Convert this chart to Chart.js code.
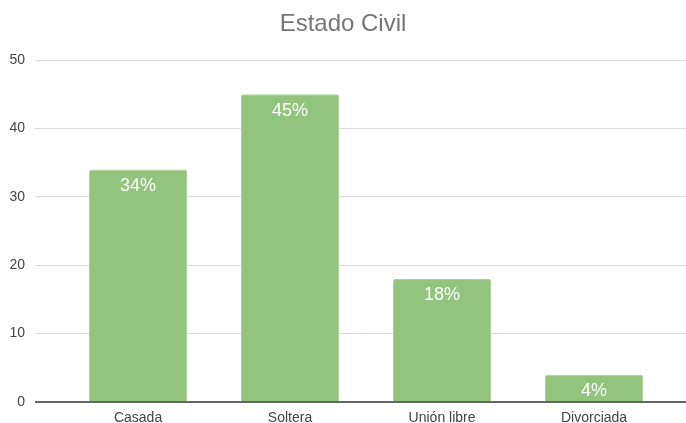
<!DOCTYPE html>
<html>
<head>
<meta charset="utf-8">
<script src="https://cdn.jsdelivr.net/npm/chart.js@4.4.1/dist/chart.umd.min.js"></script>
<style>
  html, body { margin: 0; padding: 0; background: #fff; }
  #chart1 { display: block; }
</style>
</head>
<body>
<canvas id="chart1" width="686" height="423"></canvas>
<script>
const categories = ['Casada', 'Soltera', 'Unión libre', 'Divorciada'];
const values = [34, 45, 18, 4];
const yTicks = [0, 10, 20, 30, 40, 50];

const FONT = '"Liberation Sans", Arial, sans-serif';

// white percentage labels just inside the top of each bar,
// plus the dark zero line drawn over the bar bottoms
const barLabels = {
  id: 'barLabels',
  afterDatasetsDraw(chart) {
    const ctx = chart.ctx;
    const meta = chart.getDatasetMeta(0);
    const area = chart.chartArea;
    const y0 = chart.scales.y.getPixelForValue(0);
    ctx.save();
    ctx.strokeStyle = '#666666';
    ctx.lineWidth = 2;
    ctx.beginPath();
    ctx.moveTo(area.left, y0);
    ctx.lineTo(area.right, y0);
    ctx.stroke();

    ctx.fillStyle = '#ffffff';
    ctx.font = '18px ' + FONT;
    ctx.textAlign = 'center';
    ctx.textBaseline = 'alphabetic';
    meta.data.forEach((bar, i) => {
      ctx.fillText(values[i] + '%', bar.x, bar.y + 21.5);
    });
    ctx.restore();
  }
};

var ctx1 = document.querySelector('#chart1');

const chart1 = new Chart(ctx1, {
  type: 'bar',
  data: {
    datasets: [{
      data: values.map((v, i) => ({ x: i, y: v })),
      backgroundColor: '#93c47d',
      borderColor: '#a9d196',
      borderWidth: { top: 1, left: 1, right: 1, bottom: 0 },
      borderRadius: { topLeft: 2, topRight: 2 },
      borderSkipped: 'bottom',
      barPercentage: 0.645,
      categoryPercentage: 1
    }]
  },
  options: {
    responsive: false,
    animation: false,
    layout: { padding: 0 },
    plugins: {
      legend: { display: false },
      tooltip: { enabled: false },
      title: {
        display: true,
        text: 'Estado Civil',
        color: '#757575',
        font: { family: FONT, size: 24, weight: 'normal', lineHeight: 1.2 },
        padding: { top: 10, bottom: 21.2 }
      }
    },
    scales: {
      x: {
        type: 'linear',
        offset: false,
        min: -0.678,
        max: 3.605,
        afterBuildTicks: (scale) => {
          scale.ticks = categories.map((c, i) => ({ value: i }));
        },
        afterFit: (scale) => { scale.height = 21; },
        grid: { display: false, drawTicks: false },
        border: { display: false },
        ticks: {
          padding: 8,
          color: '#444444',
          font: { family: FONT, size: 14 },
          maxRotation: 0,
          autoSkip: false,
          callback: (v) => categories[v]
        }
      },
      y: {
        min: 0,
        max: 50,
        afterBuildTicks: (scale) => {
          scale.ticks = yTicks.map(v => ({ value: v }));
        },
        afterFit: (scale) => { scale.width = 35; },
        grid: {
          drawTicks: false,
          color: '#d9d9d9',
          lineWidth: 1
        },
        border: { display: false },
        ticks: {
          padding: 10,
          color: '#444444',
          font: { family: FONT, size: 14 }
        }
      }
    }
  },
  plugins: [barLabels]
});
</script>
</body>
</html>
